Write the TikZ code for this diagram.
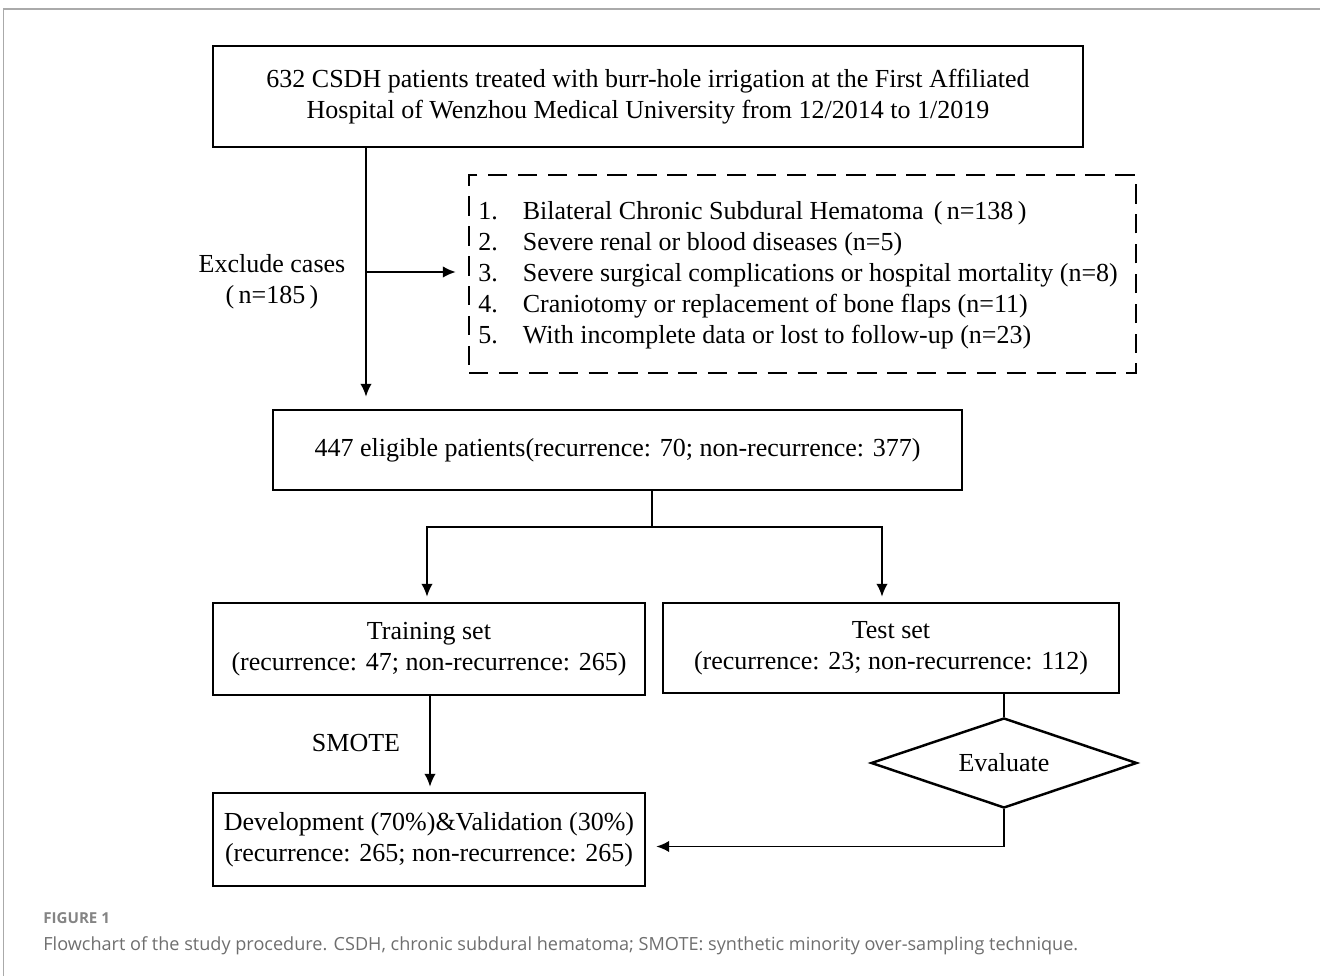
\documentclass[tikz,border=0pt]{standalone}
\usepackage{fontspec}
\setmainfont{Liberation Serif}
\newfontfamily\capfont{Open Sans}
\usetikzlibrary{arrows.meta}
\usetikzlibrary{shapes.geometric}
\usetikzlibrary{positioning}

\definecolor{framegray}{RGB}{170,170,170}
\definecolor{capgray}{RGB}{110,110,110}

\begin{document}
\begin{tikzpicture}[
  box/.style={draw=black,line width=1.4pt,rectangle,align=center,font=\fontsize{14.8}{17.6}\selectfont},
  plain/.style={align=center,font=\fontsize{14.8}{17.6}\selectfont},
  link/.style={line width=1.1pt},
  arr/.style={line width=1.1pt,-{Latex[length=2.6mm,width=2.3mm]}}
]
\useasboundingbox (0,0) rectangle (26.4,-19.52);
% outer frame
\draw[framegray,line width=0.8pt] (26.4,-0.18) -- (0.07,-0.18) -- (0.07,-19.52);

% boxes
\node[box,minimum width=17.4cm,minimum height=2.02cm] (cohort) at (12.96,-1.93)
  {632 CSDH patients treated with burr-hole irrigation at the First Affiliated\\Hospital of Wenzhou Medical University from 12/2014 to 1/2019};
\node[draw=black,line width=1.3pt,dash pattern=on 11pt off 6pt,minimum width=13.34cm,minimum height=3.96cm] (excl) at (16.05,-5.48) {};
\node[plain,anchor=west,inner sep=0pt] (crit) at (9.56,-5.50) {%
  \begin{tabular}{@{}l@{\hspace{0.5cm}}l@{}}
  1. & Bilateral Chronic Subdural Hematoma\hspace{0.2cm}(\,n=138\,)\\
  2. & Severe renal or blood diseases (n=5)\\
  3. & Severe surgical complications or hospital mortality (n=8)\\
  4. & Craniotomy or replacement of bone flaps (n=11)\\
  5. & With incomplete data or lost to follow-up (n=23)
  \end{tabular}};
\node[plain] (exlab) at (5.44,-5.64) {Exclude cases\\(\,n=185\,)};
\node[box,minimum width=13.78cm,minimum height=1.6cm] (elig) at (12.35,-9.0)
  {447 eligible patients(recurrence: 70; non-recurrence: 377)};
\node[box,minimum width=8.64cm,minimum height=1.84cm] (train) at (8.58,-12.98)
  {Training set\\(recurrence: 47; non-recurrence: 265)};
\node[box,minimum width=9.12cm,minimum height=1.8cm] (test) at (17.82,-12.96)
  {Test set\\(recurrence: 23; non-recurrence: 112)};
\node[plain] (smote) at (7.12,-14.86) {SMOTE};
\node[box,minimum width=8.64cm,minimum height=1.86cm] (dev) at (8.58,-16.79)
  {Development (70\%)\&Validation (30\%)\\(recurrence: 265; non-recurrence: 265)};
\node[draw=black,line width=1.4pt,diamond,aspect=2.96,minimum width=5.32cm,minimum height=1.8cm,inner sep=0pt,font=\fontsize{14.8}{17.6}\selectfont] (eval) at (20.08,-15.26) {Evaluate};

% connectors
\coordinate (xmain) at (7.32,-5.44);
\coordinate (split) at (13.04,-10.54);
\coordinate (xtrain) at (8.54,0);
\coordinate (xtest) at (17.64,0);
\coordinate (xdev) at (8.6,0);
\coordinate (ydev) at (0,-16.93);
\draw[arr,shorten >=0.24cm] (cohort.south -| xmain) -- (elig.north -| xmain);
\draw[arr,shorten >=0.24cm] (xmain) -- (excl.west |- xmain);
\draw[link] (elig.south -| split) -- (split);
\draw[arr,shorten >=0.1cm] (split) -| (train.north -| xtrain);
\draw[arr,shorten >=0.1cm] (split) -| (test.north -| xtest);
\draw[arr,shorten >=0.1cm] (train.south -| xdev) -- (dev.north -| xdev);
\draw[link] (test.south -| eval.north) -- (eval.north);
\draw[arr,shorten >=0.2cm] (eval.south) |- (dev.east |- ydev);

% caption
\node[anchor=west,inner sep=0pt,text=capgray!85,font=\capfont\fontsize{8.6}{10}\selectfont\bfseries] (figno) at (0.86,-18.36) {FIGURE 1};
\node[anchor=west,inner sep=0pt,text=capgray,font=\capfont\fontsize{10.3}{12}\selectfont] (cap) at (0.86,-18.92)
  {Flowchart of the study procedure. CSDH, chronic subdural hematoma; SMOTE: synthetic minority over-sampling technique.};
\end{tikzpicture}
\end{document}
